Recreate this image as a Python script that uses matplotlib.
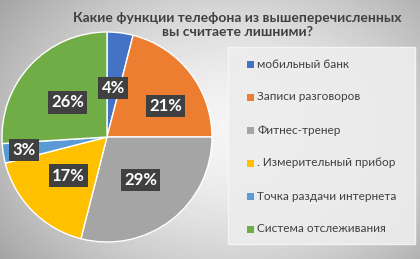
import numpy as np
import matplotlib.pyplot as plt
from matplotlib.patches import Rectangle

# Data
categories = ["мобильный банк", "Записи разговоров", "Фитнес-тренер",
              ". Измерительный прибор", "Точка раздачи интернета", "Система отслеживания"]
values = [4, 21, 29, 17, 3, 26]
colors = ["#4472C4", "#ED7D31", "#A5A5A5", "#FFC000", "#5B9BD5", "#70AD47"]
title = "Какие функции телефона из вышеперечисленных\nвы считаете лишними?"

plt.rcParams['font.family'] = ['Lato', 'DejaVu Sans']

W, H = 420, 259
fig = plt.figure(figsize=(W / 100, H / 100), dpi=100)

# radial gray background
bg = fig.add_axes([0, 0, 1, 1])
yy, xx = np.mgrid[0:H, 0:W]
r = np.sqrt(((xx - W * 0.55) / (W * 0.6)) ** 2 + ((yy - H * 0.5) / (H * 0.75)) ** 2)
shade = np.clip(0.96 - 0.26 * r ** 1.6, 0, 1)
bg.imshow(shade, cmap="gray", vmin=0, vmax=1, aspect="auto", extent=[0, W, H, 0])
bg.set_xlim(0, W)
bg.set_ylim(H, 0)
bg.axis("off")

# legend panel
bg.add_patch(Rectangle((228, 47), 187, 197, facecolor="#ededed", edgecolor="#f7f7f7",
                       lw=1.0, alpha=0.9, zorder=2))

fig.text(0.565, 1 - 25 / H, title, ha="center", va="center", fontsize=10,
         fontweight="bold", color="#404040", linespacing=1.25)

# pie
ax = fig.add_axes([2 / W, 17 / H, 210 / W, 210 / H])
wedges, texts, autotexts = ax.pie(values, colors=colors, startangle=90, counterclock=False,
                                  autopct="%d%%", pctdistance=0.5,
                                  wedgeprops=dict(edgecolor="white", linewidth=1.0))
label_r = [0.47, 0.63, 0.52, 0.52, 0.8, 0.5]
label_shift = [0, -10, 0, 0, 0, 2]  # degrees, Excel "best fit" nudges
for w, t, lr, sh in zip(wedges, autotexts, label_r, label_shift):
    ang = np.deg2rad((w.theta1 + w.theta2) / 2 + sh)
    t.set_position((lr * np.cos(ang), lr * np.sin(ang)))
    t.set_color("white")
    t.set_fontsize(12)
    t.set_fontweight("bold")
    t.set_bbox(dict(boxstyle="square,pad=0.2", facecolor="#404040", edgecolor="none"))
ax.set_xlim(-1, 1)
ax.set_ylim(-1, 1)
ax.set_aspect("equal")
ax.axis("off")

# legend
for i, (lab, c) in enumerate(zip(categories, colors)):
    y = 64 + i * 33
    bg.add_patch(Rectangle((247, y - 3.5), 7, 7, facecolor=c, edgecolor="none", zorder=3))
    bg.text(257, y, lab, fontsize=8.5, color="#404040", va="center", ha="left", zorder=3)

fig.savefig("out.png", dpi=100)
